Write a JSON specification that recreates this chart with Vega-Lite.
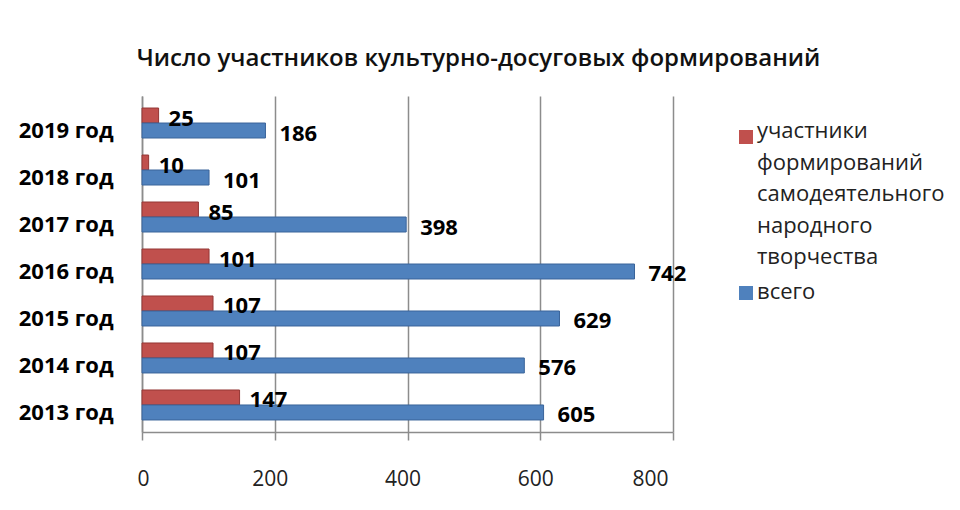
{
  "$schema": "https://vega.github.io/schema/vega-lite/v6.json",
  "width": 531,
  "height": 336,
  "autosize": {"type": "none"},
  "padding": {"left": 142, "top": 96, "right": 287, "bottom": 78},
  "background": "white",
  "title": {
    "text": "Число участников культурно-досуговых  формирований",
    "font": "Open Sans",
    "fontSize": 24,
    "fontWeight": 600,
    "color": "#111111",
    "anchor": "middle",
    "dx": 71,
    "baseline": "bottom",
    "offset": 1
  },
  "data": {
    "values": [
      {"year": "2019 год", "series": "участники формирований самодеятельного народного творчества", "value": 25},
      {"year": "2019 год", "series": "всего", "value": 186},
      {"year": "2018 год", "series": "участники формирований самодеятельного народного творчества", "value": 10},
      {"year": "2018 год", "series": "всего", "value": 101},
      {"year": "2017 год", "series": "участники формирований самодеятельного народного творчества", "value": 85},
      {"year": "2017 год", "series": "всего", "value": 398},
      {"year": "2016 год", "series": "участники формирований самодеятельного народного творчества", "value": 101},
      {"year": "2016 год", "series": "всего", "value": 742},
      {"year": "2015 год", "series": "участники формирований самодеятельного народного творчества", "value": 107},
      {"year": "2015 год", "series": "всего", "value": 629},
      {"year": "2014 год", "series": "участники формирований самодеятельного народного творчества", "value": 107},
      {"year": "2014 год", "series": "всего", "value": 576},
      {"year": "2013 год", "series": "участники формирований самодеятельного народного творчества", "value": 147},
      {"year": "2013 год", "series": "всего", "value": 605}
    ]
  },
  "encoding": {
    "y": {
      "field": "year",
      "type": "nominal",
      "sort": ["2019 год", "2018 год", "2017 год", "2016 год", "2015 год", "2014 год", "2013 год"],
      "title": null,
      "scale": {"paddingInner": 0, "paddingOuter": 0.075},
      "axis": {
        "ticks": false,
        "labelPadding": 29,
        "labelOffset": 8,
        "labelFont": "Open Sans",
        "labelFontSize": 22,
        "labelFontWeight": "bold",
        "labelColor": "#000000",
        "domainColor": "#8c8c8c",
        "domainWidth": 1.5
      }
    },
    "yOffset": {
      "field": "series",
      "type": "nominal",
      "sort": ["участники формирований самодеятельного народного творчества", "всего"],
      "scale": {"paddingInner": 0, "paddingOuter": 0.567}
    },
    "x": {
      "field": "value",
      "type": "quantitative",
      "title": null,
      "scale": {"domain": [0, 800], "nice": false},
      "axis": {
        "values": [0, 200, 400, 600, 800],
        "grid": true,
        "gridColor": "#8c8c8c",
        "gridWidth": 1.5,
        "domainColor": "#8c8c8c",
        "domainWidth": 1.5,
        "tickColor": "#8c8c8c",
        "tickWidth": 1.5,
        "tickSize": 8,
        "labelPadding": 28,
        "labelOffset": -5,
        "labelFont": "Open Sans",
        "labelFontSize": 21,
        "labelColor": "#222222"
      }
    }
  },
  "layer": [
    {
      "mark": {"type": "bar", "strokeWidth": 1, "cornerRadius": 0},
      "encoding": {
        "color": {
          "field": "series",
          "type": "nominal",
          "scale": {
            "domain": ["участники формирований самодеятельного народного творчества", "всего"],
            "range": ["#C0504D", "#4F81BD"]
          },
          "legend": {
            "title": null,
            "orient": "none",
            "legendX": 593,
            "legendY": 30,
            "symbolType": "square",
            "symbolSize": 196,
            "symbolStrokeWidth": 0,
            "labelFont": "Open Sans",
            "labelFontSize": 22,
            "labelColor": "#222222",
            "labelOffset": 0,
            "labelBaseline": "top",
            "labelLimit": 300,
            "rowPadding": 13,
            "labelExpr": "datum.label == 'всего' ? 'всего' : ['участники', 'формирований', 'самодеятельного', 'народного', 'творчества']",
            "encode": {"labels": {"update": {"lineHeight": {"value": 31.5}, "dy": {"signal": "datum.value == 'всего' ? -11 : -16"}}}}
          }
        },
        "stroke": {
          "field": "series",
          "type": "nominal",
          "scale": {
            "domain": ["участники формирований самодеятельного народного творчества", "всего"],
            "range": ["#943634", "#3A649A"]
          },
          "legend": null
        }
      }
    },
    {
      "transform": [{"filter": "datum.series != 'всего'"}],
      "mark": {"type": "text", "align": "left", "baseline": "middle", "dx": 10, "dy": 3, "font": "Open Sans", "fontSize": 22, "fontWeight": "bold", "color": "#000000"},
      "encoding": {"text": {"field": "value", "type": "quantitative"}}
    },
    {
      "transform": [{"filter": "datum.series == 'всего'"}],
      "mark": {"type": "text", "align": "left", "baseline": "middle", "dx": 14, "dy": 3, "font": "Open Sans", "fontSize": 22, "fontWeight": "bold", "color": "#000000"},
      "encoding": {"text": {"field": "value", "type": "quantitative"}}
    }
  ],
  "config": {
    "view": {"stroke": null}
  }
}
